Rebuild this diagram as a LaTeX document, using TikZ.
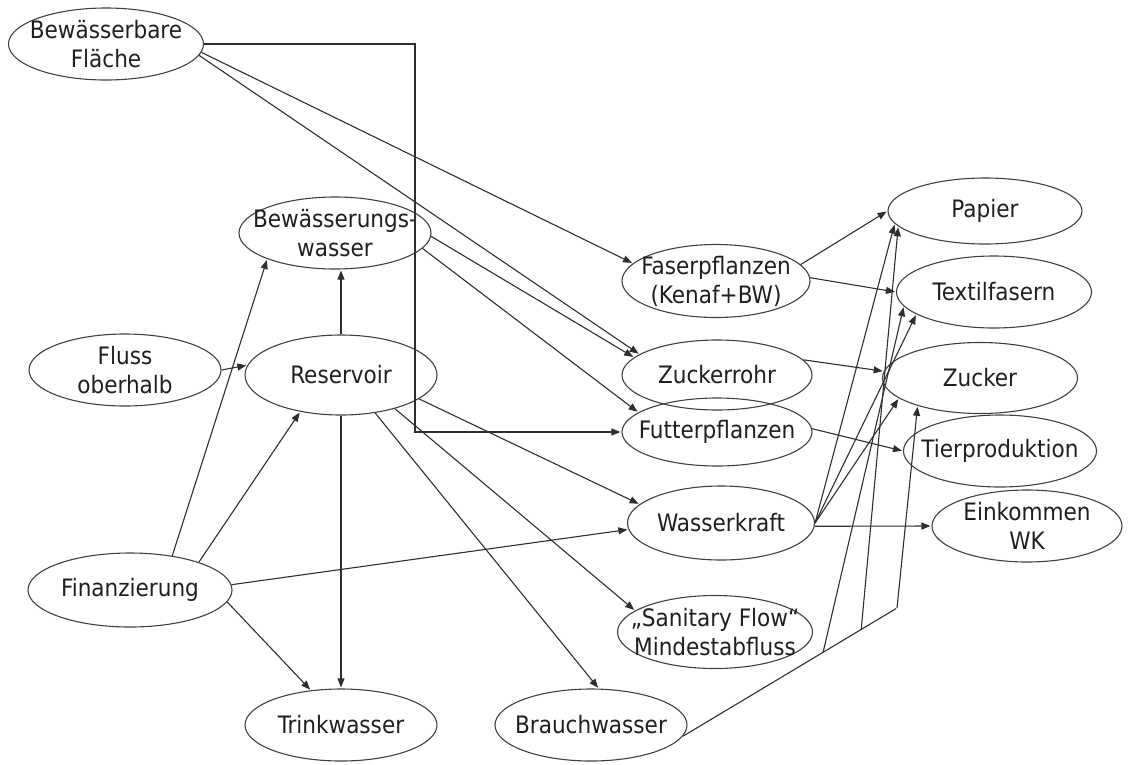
\documentclass[tikz,border=0pt]{standalone}
\usepackage{fontspec}
\setmainfont{DejaVu Sans Condensed}
\usetikzlibrary{arrows.meta,calc,shapes.geometric}

\begin{document}
\begin{tikzpicture}[x=1pt, y=-1pt, >={Triangle[length=9pt,width=7pt]}, shorten >=1pt,
    every node/.style={font=\fontsize{24}{29}\selectfont, text=black!88},
    every label/.style={align=center},
    ell/.style={ellipse, draw=black!75, line width=1.1pt, inner sep=0pt,
                minimum width=192pt, minimum height=72pt},
    con/.style={line width=1.1pt, black!82}]
  \useasboundingbox (0,0) rectangle (1129,764);

  \node[ell, minimum width=195pt, label=center:{Bewässerbare\\Fläche}] (BF) at (106,44) {};
  \node[ell, label=center:{Bewässerungs-\\wasser}] (BWW) at (335,233) {};
  \node[ell, label=center:{Fluss\\oberhalb}] (FO) at (125,370) {};
  \node[ell, minimum height=80pt, label=center:Reservoir] (RES) at (341,375) {};
  \node[ell, minimum width=204pt, minimum height=74pt, label=center:Finanzierung] (FIN) at (130,590) {};
  \node[ell, label=center:Trinkwasser] (TW) at (341,725) {};
  \node[ell, label=center:Brauchwasser] (BRW) at (591,725) {};

  \node[ell, minimum width=188pt, minimum height=73pt, label=center:{Faserpflanzen\\(Kenaf+BW)}] (FAS) at (716,281) {};
  \node[ell, minimum width=190pt, minimum height=70pt, label=center:Zuckerrohr] (ZR) at (717,375) {};
  \node[ell, minimum width=190pt, minimum height=68pt, label=center:Futterpflanzen] (FUT) at (717,432) {};
  \node[ell, minimum width=187pt, minimum height=74pt, label=center:Wasserkraft] (WKR) at (721,523) {};
  \node[ell, minimum width=195pt, minimum height=73pt, label=center:{„Sanitary Flow“\\Mindestabfluss}] (SF) at (715,632) {};

  \node[ell, minimum width=194pt, minimum height=66pt, label=center:Papier] (PAP) at (985,211) {};
  \node[ell, minimum width=195pt, label=center:Textilfasern] (TEX) at (994,292) {};
  \node[ell, minimum width=195pt, minimum height=71pt, label=center:Zucker] (ZUK) at (980,378) {};
  \node[ell, minimum width=193pt, label=center:Tierproduktion] (TIER) at (1000,451) {};
  \node[ell, minimum width=190pt, label=center:{Einkommen\\WK}] (EWK) at (1027,526) {};

  \coordinate (knick) at (415,432);
  \coordinate (k3) at (897,608);
  \coordinate (k1) at ($(BRW.-7)!0.655!(k3)$);
  \coordinate (k2) at ($(BRW.-7)!0.833!(k3)$);

  \draw[con, ->] (BF.east) -| (knick) -- (FUT.west);
  \draw[con] (BRW.-7) -- (k3);

  \path[con, ->]
      (BF.-5)     edge (FAS.168)
      (BF.-7)     edge (ZR.165)
      (BWW.-2)    edge (ZR.168)
      (BWW.-10)   edge (FUT.166)
      (FO.east)   edge (RES.174)
      (RES.north) edge (BWW.south -| RES.north)
      (RES.-17)   edge (WKR.167)
      (RES.-32)   edge (SF.165)
      (RES.-48)   edge (BRW.78)
      (RES.south) edge (TW.north)
      (FIN.39)    edge (BWW.-159)
      (FIN.22)    edge (RES.-138)
      (FIN.3)     edge (WKR.184)
      (FIN.-7)    edge (TW.131)
      (FAS.11)    edge (PAP.west)
      (FAS.2)     edge (TEX.west)
      (ZR.10)     edge (ZUK.176)
      (FUT.2)     edge (TIER.west)
      (WKR.-2)    edge (EWK.west)
      (WKR.east)  edge (PAP.188)
                  edge (TEX.196)
                  edge (ZUK.194)
      (k1)        edge (TEX.189)
      (k2)        edge (PAP.190)
      (k3)        edge (ZUK.204);
\end{tikzpicture}
\end{document}
